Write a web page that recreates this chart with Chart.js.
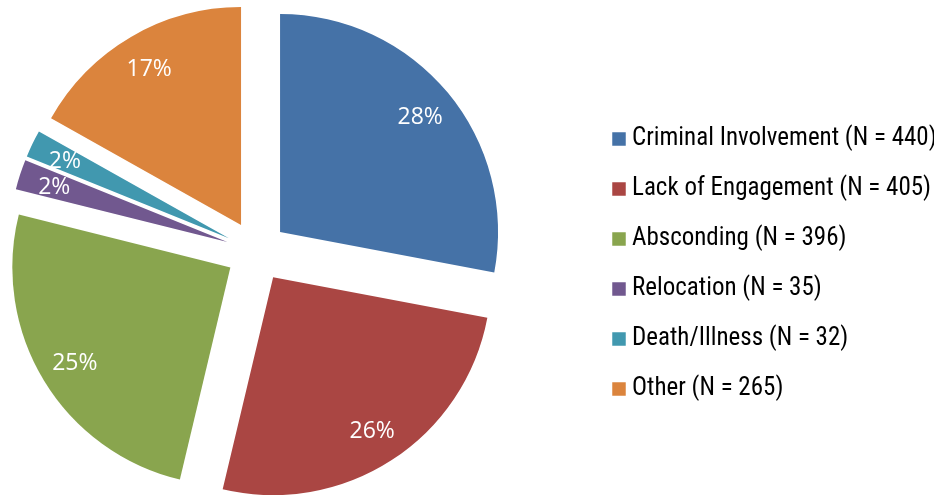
<!DOCTYPE html>
<html><head><meta charset="utf-8">
<script src="https://cdn.jsdelivr.net/npm/chart.js@4.4.1/dist/chart.umd.min.js"></script>
<style>
html,body{margin:0;padding:0;background:#fff;overflow:hidden;}
#wrap{position:relative;width:934px;height:495px;}
</style></head><body>
<div id="wrap"><canvas id="c"></canvas></div>
<script>
const categories = ['Criminal Involvement','Lack of Engagement','Absconding','Relocation','Death/Illness','Other'];
const counts = [440, 405, 396, 35, 32, 265];
const colors = ['#4572A7','#AA4643','#89A54E','#71588F','#4198AF','#DB843D'];
const legendLabels = categories.map((c, i) => c + ' (N = ' + counts[i] + ')');

// layout / style constants
const EXPLODE = 30.6;
const LABEL_R = 0.835;
const PIE_CENTER_X = 256.5;
const PIE_TOP = 8, PIE_BOTTOM = 495;
const LEGEND_LEFT = 593.5, LEGEND_TOP = 33, LEGEND_BOTTOM = 495;

const placementPlugin = {
  id: 'placement',
  afterLayout(chart) {
    const ca = chart.chartArea;
    ca.left = 0; ca.right = PIE_CENTER_X * 2; ca.width = PIE_CENTER_X * 2;
    ca.top = PIE_TOP; ca.bottom = PIE_BOTTOM; ca.height = PIE_BOTTOM - PIE_TOP;
    const lg = chart.legend;
    const w = lg.width;
    lg.left = LEGEND_LEFT; lg.right = LEGEND_LEFT + w;
    lg.top = LEGEND_TOP; lg.bottom = LEGEND_BOTTOM; lg.height = LEGEND_BOTTOM - LEGEND_TOP;
  }
};

const explodePlugin = {
  id: 'explode',
  beforeDatasetDraw(chart, args) {
    const ctx = chart.ctx;
    args.meta.data.forEach(arc => {
      const mid = (arc.startAngle + arc.endAngle) / 2;
      ctx.save();
      ctx.translate(Math.cos(mid) * EXPLODE, Math.sin(mid) * EXPLODE);
      arc.draw(ctx);
      ctx.restore();
    });
    return false;
  },
  afterDatasetsDraw(chart) {
    const ctx = chart.ctx;
    const meta = chart.getDatasetMeta(0);
    const total = counts.reduce((a, b) => a + b, 0);
    const size = 23;
    ctx.save();
    ctx.fillStyle = '#ffffff';
    ctx.font = size + 'px "Open Sans"';
    ctx.textAlign = 'center';
    ctx.textBaseline = 'alphabetic';
    meta.data.forEach((arc, i) => {
      const mid = (arc.startAngle + arc.endAngle) / 2;
      const r = EXPLODE + arc.outerRadius * LABEL_R;
      ctx.fillText(Math.round(counts[i] / total * 100) + '%',
        arc.x + Math.cos(mid) * r, arc.y + Math.sin(mid) * r + size * 0.357);
    });
    ctx.restore();
  }
};

new Chart(document.getElementById('c'), {
  type: 'pie',
  data: {
    labels: legendLabels,
    datasets: [{
      data: counts,
      backgroundColor: colors,
      borderWidth: 0
    }]
  },
  options: {
    responsive: true,
    maintainAspectRatio: false,
    animation: false,
    events: [],
    radius: 218,
    plugins: {
      tooltip: { enabled: false },
      legend: {
        position: 'right',
        labels: {
          usePointStyle: true,
          pointStyle: 'rect',
          boxWidth: 1,
          boxHeight: 13.5,
          padding: 25,
          color: '#000000',
          font: { family: '"Roboto Condensed", "Liberation Sans Narrow", "DejaVu Sans Condensed", sans-serif', size: 25 }
        }
      }
    }
  },
  plugins: [placementPlugin, explodePlugin]
});
</script>
</body></html>
